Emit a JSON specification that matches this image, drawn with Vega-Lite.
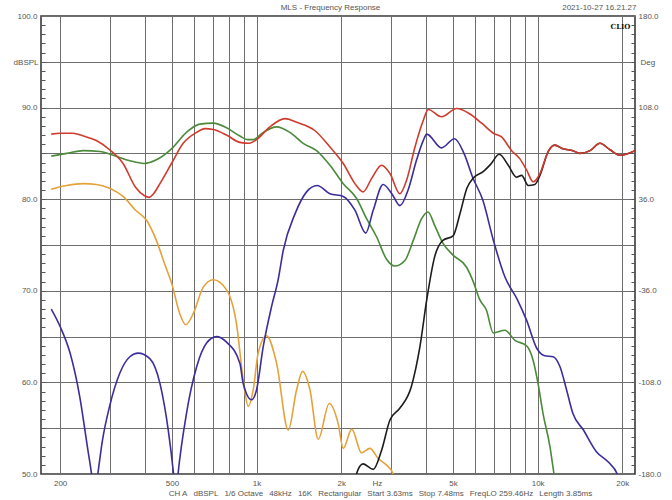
{
  "$schema": "https://vega.github.io/schema/vega-lite/v6.json",
  "width": 594,
  "height": 458,
  "autosize": "none",
  "padding": {"left": 41, "top": 16, "right": 37, "bottom": 26},
  "background": "white",
  "config": {
    "font": "Liberation Sans",
    "view": {"stroke": "#3a3a3a", "strokeWidth": 1.6},
    "axis": {"labelFont": "Liberation Sans", "titleFont": "Liberation Sans", "labelFontSize": 8, "titleFontSize": 8, "labelColor": "#555", "titleColor": "#555", "titleFontWeight": "normal", "labelFlush": false, "labelOverlap": false}
  },
  "data": {"values": [
    {"s":"red","f":186,"db":87.1},{"s":"red","f":200,"db":87.2},{"s":"red","f":222,"db":87.2},{"s":"red","f":242,"db":86.9},{"s":"red","f":269,"db":86.4},{"s":"red","f":300,"db":85.4},{"s":"red","f":335,"db":83.9},{"s":"red","f":371,"db":81.3},{"s":"red","f":398,"db":80.4},{"s":"red","f":414,"db":80.2},{"s":"red","f":430,"db":80.6},{"s":"red","f":453,"db":81.7},{"s":"red","f":498,"db":83.9},{"s":"red","f":548,"db":86.1},{"s":"red","f":612,"db":87.3},{"s":"red","f":655,"db":87.7},{"s":"red","f":701,"db":87.6},{"s":"red","f":782,"db":87.0},{"s":"red","f":872,"db":86.2},{"s":"red","f":940,"db":86.1},{"s":"red","f":1000,"db":86.5},{"s":"red","f":1115,"db":87.9},{"s":"red","f":1261,"db":88.8},{"s":"red","f":1388,"db":88.4},{"s":"red","f":1611,"db":87.5},{"s":"red","f":1824,"db":85.7},{"s":"red","f":2034,"db":83.9},{"s":"red","f":2238,"db":81.7},{"s":"red","f":2393,"db":80.8},{"s":"red","f":2570,"db":82.3},{"s":"red","f":2785,"db":83.7},{"s":"red","f":2982,"db":82.8},{"s":"red","f":3236,"db":80.6},{"s":"red","f":3419,"db":82.1},{"s":"red","f":3660,"db":85.7},{"s":"red","f":3917,"db":88.6},{"s":"red","f":4080,"db":89.8},{"s":"red","f":4550,"db":89.0},{"s":"red","f":5150,"db":89.9},{"s":"red","f":5742,"db":89.3},{"s":"red","f":6320,"db":88.3},{"s":"red","f":6960,"db":87.2},{"s":"red","f":7440,"db":86.8},{"s":"red","f":8080,"db":85.3},{"s":"red","f":8650,"db":84.4},{"s":"red","f":9130,"db":83.2},{"s":"red","f":9640,"db":81.9},{"s":"red","f":10190,"db":82.8},{"s":"red","f":10900,"db":85.2},{"s":"red","f":11500,"db":85.9},{"s":"red","f":12300,"db":85.5},{"s":"red","f":13350,"db":85.3},{"s":"red","f":14140,"db":85.0},{"s":"red","f":15360,"db":85.3},{"s":"red","f":16660,"db":86.1},{"s":"red","f":18090,"db":85.4},{"s":"red","f":19630,"db":84.8},{"s":"red","f":22200,"db":85.3},
    {"s":"green","f":186,"db":84.7},{"s":"green","f":211,"db":85.0},{"s":"green","f":242,"db":85.3},{"s":"green","f":277,"db":85.2},{"s":"green","f":309,"db":84.8},{"s":"green","f":354,"db":84.2},{"s":"green","f":398,"db":83.9},{"s":"green","f":440,"db":84.3},{"s":"green","f":498,"db":85.5},{"s":"green","f":563,"db":87.3},{"s":"green","f":628,"db":88.2},{"s":"green","f":701,"db":88.3},{"s":"green","f":782,"db":87.8},{"s":"green","f":872,"db":86.9},{"s":"green","f":930,"db":86.5},{"s":"green","f":973,"db":86.5},{"s":"green","f":1056,"db":87.3},{"s":"green","f":1178,"db":87.9},{"s":"green","f":1314,"db":87.3},{"s":"green","f":1465,"db":86.1},{"s":"green","f":1634,"db":85.3},{"s":"green","f":1824,"db":83.7},{"s":"green","f":2034,"db":81.7},{"s":"green","f":2267,"db":80.1},{"s":"green","f":2460,"db":77.9},{"s":"green","f":2672,"db":75.9},{"s":"green","f":2893,"db":73.5},{"s":"green","f":3106,"db":72.7},{"s":"green","f":3370,"db":73.3},{"s":"green","f":3610,"db":75.5},{"s":"green","f":3870,"db":77.9},{"s":"green","f":4070,"db":78.6},{"s":"green","f":4320,"db":77.0},{"s":"green","f":4600,"db":75.2},{"s":"green","f":5000,"db":73.9},{"s":"green","f":5580,"db":72.6},{"s":"green","f":5900,"db":71.0},{"s":"green","f":6230,"db":69.0},{"s":"green","f":6570,"db":67.9},{"s":"green","f":6950,"db":65.4},{"s":"green","f":7650,"db":65.7},{"s":"green","f":8300,"db":64.6},{"s":"green","f":9130,"db":64.0},{"s":"green","f":9640,"db":62.4},{"s":"green","f":10030,"db":59.9},{"s":"green","f":10450,"db":56.6},{"s":"green","f":11060,"db":53.0},{"s":"green","f":11420,"db":50.1},{"s":"green","f":11700,"db":48.0},
    {"s":"orange","f":186,"db":81.1},{"s":"orange","f":211,"db":81.5},{"s":"orange","f":242,"db":81.7},{"s":"orange","f":269,"db":81.6},{"s":"orange","f":300,"db":81.2},{"s":"orange","f":335,"db":80.3},{"s":"orange","f":371,"db":78.8},{"s":"orange","f":406,"db":77.7},{"s":"orange","f":440,"db":75.5},{"s":"orange","f":470,"db":73.0},{"s":"orange","f":500,"db":70.7},{"s":"orange","f":533,"db":67.5},{"s":"orange","f":560,"db":66.3},{"s":"orange","f":595,"db":67.5},{"s":"orange","f":646,"db":70.4},{"s":"orange","f":701,"db":71.2},{"s":"orange","f":782,"db":70.1},{"s":"orange","f":849,"db":66.3},{"s":"orange","f":896,"db":60.3},{"s":"orange","f":934,"db":57.4},{"s":"orange","f":973,"db":59.2},{"s":"orange","f":1013,"db":63.2},{"s":"orange","f":1085,"db":65.1},{"s":"orange","f":1178,"db":62.1},{"s":"orange","f":1296,"db":54.8},{"s":"orange","f":1388,"db":59.2},{"s":"orange","f":1458,"db":61.2},{"s":"orange","f":1548,"db":59.2},{"s":"orange","f":1657,"db":53.8},{"s":"orange","f":1814,"db":57.7},{"s":"orange","f":1951,"db":55.5},{"s":"orange","f":2034,"db":52.8},{"s":"orange","f":2181,"db":54.9},{"s":"orange","f":2363,"db":52.3},{"s":"orange","f":2531,"db":52.8},{"s":"orange","f":2706,"db":51.7},{"s":"orange","f":2893,"db":51.0},{"s":"orange","f":3040,"db":50.2},{"s":"orange","f":3150,"db":49.0},
    {"s":"blue","f":186,"db":68.0},{"s":"blue","f":200,"db":66.1},{"s":"blue","f":217,"db":63.2},{"s":"blue","f":235,"db":58.4},{"s":"blue","f":250,"db":53.0},{"s":"blue","f":259,"db":49.9},{"s":"blue","f":265,"db":47.5},{"s":"blue","f":272,"db":49.9},{"s":"blue","f":283,"db":53.7},{"s":"blue","f":300,"db":57.4},{"s":"blue","f":326,"db":61.0},{"s":"blue","f":354,"db":62.8},{"s":"blue","f":379,"db":63.2},{"s":"blue","f":417,"db":62.6},{"s":"blue","f":453,"db":59.9},{"s":"blue","f":485,"db":54.8},{"s":"blue","f":507,"db":49.9},{"s":"blue","f":516,"db":47.5},{"s":"blue","f":525,"db":49.9},{"s":"blue","f":563,"db":56.6},{"s":"blue","f":612,"db":61.7},{"s":"blue","f":664,"db":64.3},{"s":"blue","f":720,"db":65.0},{"s":"blue","f":782,"db":64.4},{"s":"blue","f":872,"db":62.1},{"s":"blue","f":896,"db":59.9},{"s":"blue","f":960,"db":58.1},{"s":"blue","f":1000,"db":59.2},{"s":"blue","f":1056,"db":63.9},{"s":"blue","f":1131,"db":68.3},{"s":"blue","f":1193,"db":71.2},{"s":"blue","f":1244,"db":74.4},{"s":"blue","f":1370,"db":78.4},{"s":"blue","f":1506,"db":80.8},{"s":"blue","f":1642,"db":81.5},{"s":"blue","f":1824,"db":80.6},{"s":"blue","f":2034,"db":80.3},{"s":"blue","f":2238,"db":78.8},{"s":"blue","f":2445,"db":76.3},{"s":"blue","f":2600,"db":78.8},{"s":"blue","f":2820,"db":81.6},{"s":"blue","f":3028,"db":80.6},{"s":"blue","f":3236,"db":79.3},{"s":"blue","f":3460,"db":81.0},{"s":"blue","f":3710,"db":84.3},{"s":"blue","f":3917,"db":86.4},{"s":"blue","f":4030,"db":87.1},{"s":"blue","f":4550,"db":85.6},{"s":"blue","f":5060,"db":86.6},{"s":"blue","f":5470,"db":85.0},{"s":"blue","f":5870,"db":82.4},{"s":"blue","f":6380,"db":79.9},{"s":"blue","f":6960,"db":75.5},{"s":"blue","f":7650,"db":71.5},{"s":"blue","f":8450,"db":69.1},{"s":"blue","f":9130,"db":66.8},{"s":"blue","f":9940,"db":63.7},{"s":"blue","f":10600,"db":62.9},{"s":"blue","f":11350,"db":62.8},{"s":"blue","f":12010,"db":61.7},{"s":"blue","f":12670,"db":59.2},{"s":"blue","f":13350,"db":56.6},{"s":"blue","f":14550,"db":54.8},{"s":"blue","f":16210,"db":52.4},{"s":"blue","f":17840,"db":51.3},{"s":"blue","f":19250,"db":49.9},{"s":"blue","f":19800,"db":48.5},
    {"s":"black","f":2200,"db":48.0},{"s":"black","f":2250,"db":49.7},{"s":"black","f":2393,"db":51.1},{"s":"black","f":2600,"db":50.5},{"s":"black","f":2785,"db":52.6},{"s":"black","f":2982,"db":55.9},{"s":"black","f":3236,"db":57.2},{"s":"black","f":3550,"db":59.5},{"s":"black","f":3812,"db":63.9},{"s":"black","f":4030,"db":69.0},{"s":"black","f":4300,"db":73.7},{"s":"black","f":4600,"db":75.5},{"s":"black","f":5000,"db":76.0},{"s":"black","f":5300,"db":78.5},{"s":"black","f":5600,"db":81.2},{"s":"black","f":5900,"db":82.3},{"s":"black","f":6400,"db":83.0},{"s":"black","f":6800,"db":83.8},{"s":"black","f":7300,"db":84.9},{"s":"black","f":7860,"db":83.7},{"s":"black","f":8410,"db":82.4},{"s":"black","f":8770,"db":82.6},{"s":"black","f":9260,"db":81.5},{"s":"black","f":9770,"db":81.6},{"s":"black","f":10190,"db":82.6},{"s":"black","f":10900,"db":85.2},{"s":"black","f":11500,"db":85.9},{"s":"black","f":12300,"db":85.5},{"s":"black","f":13350,"db":85.3},{"s":"black","f":14140,"db":85.0},{"s":"black","f":15360,"db":85.3},{"s":"black","f":16660,"db":86.1},{"s":"black","f":18090,"db":85.4},{"s":"black","f":19630,"db":84.8},{"s":"black","f":22200,"db":85.3}
  ]},
  "resolve": {"scale": {"x": "shared", "y": "shared"}, "axis": {"x": "independent", "y": "independent"}},
  "layer": [
    {
      "transform": [{"filter": "datum.s === 'orange'"}],
      "mark": {"type": "line", "color": "#e6a23a", "strokeWidth": 1.6, "clip": true, "interpolate": "monotone"},
      "encoding": {
        "x": {"field": "f", "type": "quantitative", "scale": {"type": "log", "domain": [171, 22200], "nice": false, "zero": false},
          "axis": {"orient": "bottom", "values": [200,300,400,500,600,700,800,900,1000,2000,3000,4000,5000,6000,7000,8000,9000,10000,20000], "grid": true, "gridColor": "#6e6e6e", "gridWidth": 1, "gridOpacity": 1, "labels": false, "ticks": false, "domain": false, "title": null}},
        "y": {"field": "db", "type": "quantitative", "scale": {"domain": [50, 100], "nice": false, "zero": false},
          "axis": {"orient": "left", "values": [50,55,60,65,70,75,80,85,90,95,100], "grid": true, "gridColor": "#6e6e6e", "gridWidth": 1, "gridOpacity": 1, "ticks": false, "domain": false, "labelPadding": 4, "labelExpr": "datum.value % 10 === 0 ? format(datum.value, '.1f') : ''", "title": "dBSPL", "titleAngle": 0, "titleAlign": "right", "titleBaseline": "middle", "titleX": -3, "titleY": 46}}
      }
    },
    {
      "transform": [{"filter": "datum.s === 'green'"}],
      "mark": {"type": "line", "color": "#4b8a3a", "strokeWidth": 1.6, "clip": true, "interpolate": "monotone"},
      "encoding": {
        "x": {"field": "f", "type": "quantitative", "scale": {"type": "log", "domain": [171, 22200], "nice": false, "zero": false},
          "axis": {"orient": "bottom", "values": [200,500,1000,2000,2680,5000,10000,20000], "grid": false, "ticks": false, "domain": false, "labelPadding": 5, "labelBaseline": "top", "labelExpr": "datum.value === 2680 ? 'Hz' : (datum.value >= 1000 ? (datum.value / 1000) + 'k' : '' + datum.value)",
            "title": "CH A\u00a0\u00a0\u2009dBSPL\u00a0\u00a0\u20091/6 Octave\u00a0\u00a0\u200948kHz\u00a0\u00a0\u200916K\u00a0\u00a0\u2009Rectangular\u00a0\u00a0\u2009Start 3.63ms\u00a0\u00a0\u2009Stop 7.48ms\u00a0\u00a0\u2009FreqLO 259.46Hz\u00a0\u00a0\u2009Length 3.85ms", "titleX": 339, "titleY": 19, "titleAlign": "center", "titleBaseline": "middle"}},
        "y": {"field": "db", "type": "quantitative", "scale": {"domain": [50, 100], "nice": false, "zero": false},
          "axis": {"orient": "left", "values": [51,52,53,54,55,56,57,58,59,60,61,62,63,64,65,66,67,68,69,70,71,72,73,74,75,76,77,78,79,80,81,82,83,84,85,86,87,88,89,90,91,92,93,94,95,96,97,98,99], "grid": false, "labels": false, "domain": false, "ticks": true, "tickSize": 4, "tickColor": "#555", "tickWidth": 1, "offset": -4, "title": null}}
      }
    },
    {
      "transform": [{"filter": "datum.s === 'blue'"}],
      "mark": {"type": "line", "color": "#3b2e9c", "strokeWidth": 1.6, "clip": true, "interpolate": "monotone"},
      "encoding": {
        "x": {"field": "f", "type": "quantitative", "scale": {"type": "log", "domain": [171, 22200], "nice": false, "zero": false},
          "axis": {"orient": "top", "values": [1000], "labels": false, "ticks": false, "domain": false, "grid": false, "title": "MLS - Frequency Response", "titleX": 289, "titleY": -8.7, "titleAlign": "center", "titleBaseline": "middle"}},
        "y": {"field": "db", "type": "quantitative", "scale": {"domain": [50, 100], "nice": false, "zero": false},
          "axis": {"orient": "right", "values": [50,60,70,80,90,100], "grid": false, "ticks": false, "domain": false, "labelPadding": 3, "labelExpr": "(datum.value < 75 ? '-' : '') + format(abs((datum.value - 75) * 7.2), '.1f')", "title": "Deg", "titleAngle": 0, "titleAlign": "left", "titleBaseline": "middle", "titleX": 5, "titleY": 46}}
      }
    },
    {
      "transform": [{"filter": "datum.s === 'black'"}],
      "mark": {"type": "line", "color": "#1c1c1c", "strokeWidth": 1.6, "clip": true, "interpolate": "monotone"},
      "encoding": {
        "x": {"field": "f", "type": "quantitative", "scale": {"type": "log", "domain": [171, 22200], "nice": false, "zero": false},
          "axis": {"orient": "top", "values": [1000], "labels": false, "ticks": false, "domain": false, "grid": false, "title": "2021-10-27 16.21.27", "titleX": 595, "titleY": -8.7, "titleAlign": "right", "titleBaseline": "middle"}},
        "y": {"field": "db", "type": "quantitative", "scale": {"domain": [50, 100], "nice": false, "zero": false},
          "axis": {"orient": "right", "values": [51,52,53,54,55,56,57,58,59,60,61,62,63,64,65,66,67,68,69,70,71,72,73,74,75,76,77,78,79,80,81,82,83,84,85,86,87,88,89,90,91,92,93,94,95,96,97,98,99], "grid": false, "labels": false, "domain": false, "ticks": true, "tickSize": 4, "tickColor": "#555", "tickWidth": 1, "offset": -4, "title": null}}
      }
    },
    {
      "transform": [{"filter": "datum.s === 'red'"}],
      "mark": {"type": "line", "color": "#cf3b2c", "strokeWidth": 1.6, "clip": true, "interpolate": "monotone"},
      "encoding": {
        "x": {"field": "f", "type": "quantitative", "scale": {"type": "log", "domain": [171, 22200], "nice": false, "zero": false},
          "axis": {"orient": "top", "values": [1000], "labels": false, "ticks": false, "domain": false, "grid": false, "title": "CLIO", "titleX": 579, "titleY": 10, "titleAlign": "center", "titleBaseline": "middle", "titleFont": "DejaVu Serif", "titleFontWeight": "bold", "titleFontSize": 7, "titleColor": "#111"}},
        "y": {"field": "db", "type": "quantitative", "scale": {"domain": [50, 100], "nice": false, "zero": false}, "axis": null}
      }
    }
  ]
}
